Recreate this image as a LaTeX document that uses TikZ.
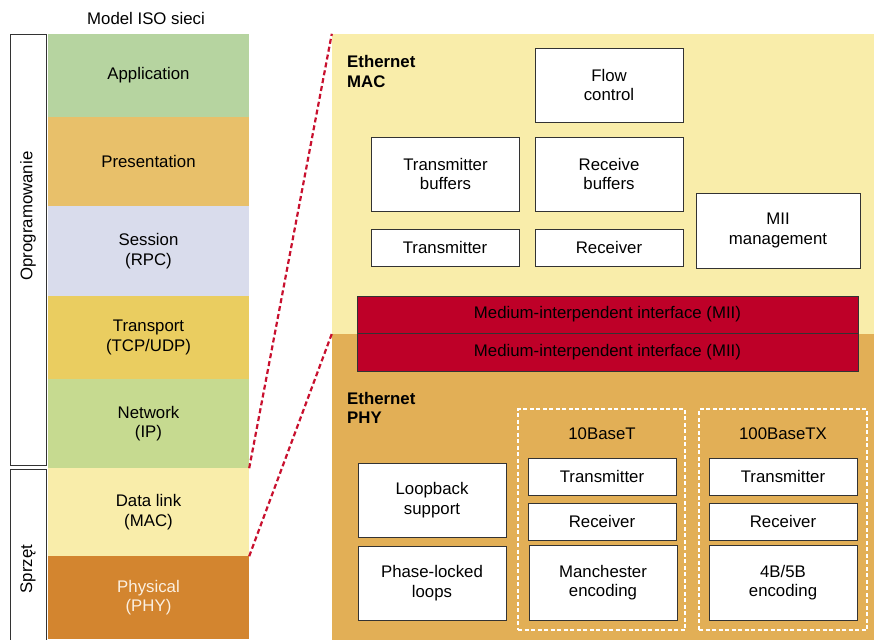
\documentclass[tikz,border=0pt]{standalone}
\usepackage{fontspec}
\setmainfont{Liberation Sans}
\definecolor{appgreen}{HTML}{B6D4A0}
\definecolor{presorange}{HTML}{E8C06A}
\definecolor{sessblue}{HTML}{D9DCEC}
\definecolor{transyellow}{HTML}{EACD60}
\definecolor{netgreen}{HTML}{C6DA90}
\definecolor{linkyellow}{HTML}{F9EDAA}
\definecolor{physorange}{HTML}{D3852F}
\definecolor{phyback}{HTML}{E2AF56}
\definecolor{miired}{HTML}{BE0028}
\definecolor{zoomred}{HTML}{C8102E}
\definecolor{phystext}{HTML}{FBF0E2}
\begin{document}
\begin{tikzpicture}[
    x=1pt, y=-1pt,
    font=\fontsize{16.8}{19.5}\selectfont,
    layer/.style={rectangle, minimum width=201pt, inner sep=0pt, align=center},
    side/.style={rectangle, draw=black!80, line width=0.8pt, minimum width=36pt, inner sep=0pt},
    panel/.style={rectangle, minimum width=544pt, inner sep=0pt},
    blk/.style={rectangle, draw=black!80, fill=white, line width=0.8pt, minimum width=148pt, inner sep=0pt, align=center},
    bar/.style={rectangle, draw=black!80, fill=miired, line width=0.8pt, minimum width=501pt, inner sep=0pt},
    group/.style={rectangle, draw=white, line width=1.6pt, dash pattern=on 4pt off 2.5pt, inner sep=0pt},
    tag/.style={font=\fontsize{16.8}{19.5}\selectfont\bfseries, align=left, inner sep=0pt, anchor=west},
    zoomline/.style={draw=zoomred, line width=2.2pt, dash pattern=on 5pt off 3pt}
]
  \useasboundingbox (0,0) rectangle (874,639);

  % ISO stack
  \node (title) at (146,18) {Model ISO sieci};
  \node[layer, fill=appgreen,    minimum height=83pt] (app)   at (148.5,75.5)  {Application};
  \node[layer, fill=presorange,  minimum height=89pt] (pres)  at (148.5,161.5) {Presentation};
  \node[layer, fill=sessblue,    minimum height=90pt] (sess)  at (148.5,251)   {Session\\(RPC)};
  \node[layer, fill=transyellow, minimum height=83pt] (trans) at (148.5,337.5) {Transport\\(TCP/UDP)};
  \node[layer, fill=netgreen,    minimum height=89pt] (net)   at (148.5,423.5) {Network\\(IP)};
  \node[layer, fill=linkyellow,  minimum height=88pt] (dl)    at (148.5,512)   {Data link\\(MAC)};
  \node[layer, fill=physorange,  minimum height=83pt, text=phystext] (phys) at (148.5,597.5) {Physical\\(PHY)};

  \node[side, minimum height=431pt] (sw) at (28,249.5) {};
  \node[side, minimum height=181pt] (hw) at (28,559.5) {};
  \node[rotate=90] (swtxt) at (28,216) {Oprogramowanie};
  \node[rotate=90] (hwtxt) at (28,569) {Sprzęt};

  % Ethernet panels
  \node[panel, fill=linkyellow, minimum height=300pt] (mac) at (604,184)   {};
  \node[panel, fill=phyback,    minimum height=307pt] (phy) at (604,487.5) {};

  \node[tag] (mactag) at (347,71.5) {Ethernet\\MAC};
  \node[blk, minimum height=74pt] (flow)  at (609,85)    {Flow\\control};
  \node[blk, minimum height=74pt] (txbuf) at (445.5,174) {Transmitter\\buffers};
  \node[blk, minimum height=74pt] (rxbuf) at (609,174)   {Receive\\buffers};
  \node[blk, minimum height=37pt] (tx)    at (445,247.5) {Transmitter};
  \node[blk, minimum height=37pt] (rx)    at (609,247.5) {Receiver};
  \node[blk, minimum width=164pt, minimum height=75pt] (miim) at (778,230.5) {MII\\management};

  \node[bar, minimum height=37pt] (miitop) at (607.5,314.5) {Medium-interpendent interface (MII)};
  \node[bar, minimum height=38pt] (miibot) at (607.5,352)   {Medium-interpendent interface (MII)};

  \node[tag] (phytag) at (347,408) {Ethernet\\PHY};
  \node[blk, minimum height=74pt] (loop) at (432,500) {Loopback\\support};
  \node[blk, minimum height=74pt] (pll)  at (432,583) {Phase-locked\\loops};

  \node[group, minimum width=167pt, minimum height=221pt] (g10)  at (601.5,519.5) {};
  \node (g10txt) at (602,434) {10BaseT};
  \node[blk, minimum height=37pt] (tx10)  at (602,476.5) {Transmitter};
  \node[blk, minimum height=37pt] (rx10)  at (602,521.5) {Receiver};
  \node[blk, minimum height=75pt] (man)   at (603,582.5) {Manchester\\encoding};

  \node[group, minimum width=168pt, minimum height=221pt] (g100) at (783,519.5) {};
  \node (g100txt) at (783,434) {100BaseTX};
  \node[blk, minimum height=37pt] (tx100) at (783,476.5) {Transmitter};
  \node[blk, minimum height=37pt] (rx100) at (783,521.5) {Receiver};
  \node[blk, minimum height=75pt] (enc)   at (783,582.5) {4B/5B\\encoding};

  % zoom lines
  \draw[zoomline] (net.south east) -- (mac.north west);
  \draw[zoomline] (dl.south east) -- (phy.north west);
\end{tikzpicture}
\end{document}
